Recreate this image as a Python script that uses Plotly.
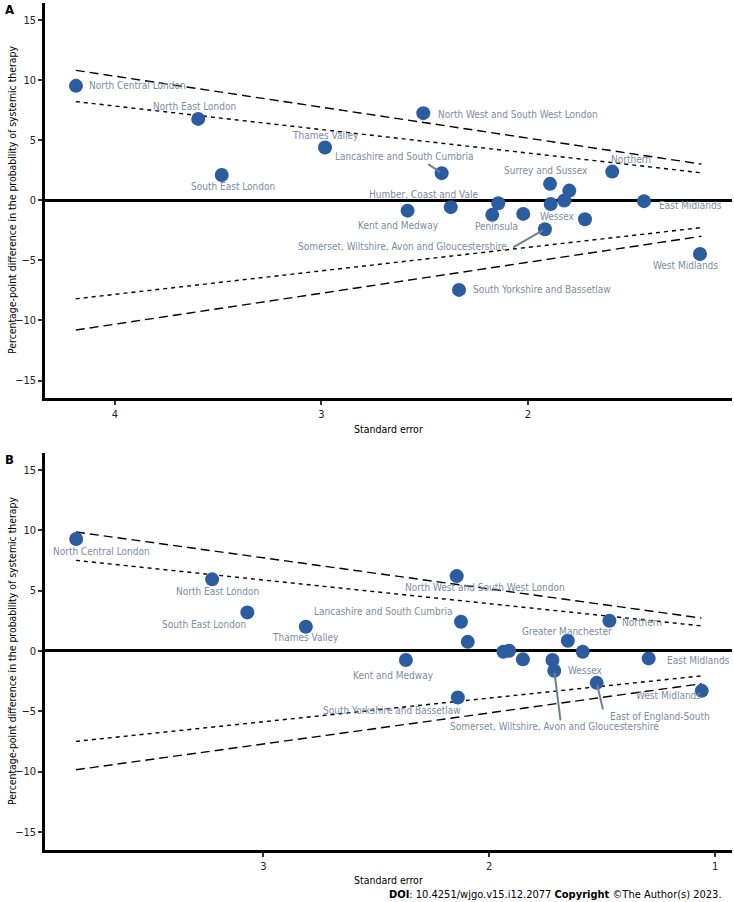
import plotly.graph_objects as go

# Panel A: standard error vs percentage-point difference
a_names = ["North Central London", "North East London", "South East London", "Thames Valley",
           "North West and South West London", "Lancashire and South Cumbria", "Surrey and Sussex", "",
           "Northern", "", "", "East Midlands", "Kent and Medway", "Humber, Coast and Vale", "",
           "Peninsula", "", "Wessex", "Somerset, Wiltshire, Avon and Gloucestershire",
           "West Midlands", "South Yorkshire and Bassetlaw"]
a_se = [4.189, 3.597, 3.483, 2.983, 2.507, 2.418, 1.893, 1.800, 1.592, 1.824, 1.890,
        1.438, 2.583, 2.374, 2.144, 2.173, 2.023, 1.724, 1.918, 1.167, 2.334]
a_diff = [9.51, 6.76, 2.10, 4.38, 7.24, 2.25, 1.36, 0.80, 2.38, -0.03, -0.31,
          -0.08, -0.87, -0.58, -0.25, -1.22, -1.14, -1.58, -2.41, -4.47, -7.46]
a_funnel_se = [4.19, 1.16]
a_upper99 = [10.8, 3.0]
a_upper95 = [8.2, 2.28]
a_lower95 = [-8.2, -2.28]
a_lower99 = [-10.8, -3.0]

# Panel B
b_names = ["North Central London", "North East London", "South East London", "Thames Valley",
           "North West and South West London", "Lancashire and South Cumbria", "", "Northern",
           "Greater Manchester", "", "", "", "", "Kent and Medway", "Wessex", "East Midlands",
           "Somerset, Wiltshire, Avon and Gloucestershire", "East of England-South",
           "West Midlands", "South Yorkshire and Bassetlaw"]
b_se = [3.829, 3.227, 3.071, 2.812, 2.144, 2.125, 2.095, 1.468, 1.652, 1.586, 1.937,
        1.912, 1.851, 2.369, 1.720, 1.294, 1.712, 1.524, 1.059, 2.139]
b_diff = [9.27, 5.93, 3.19, 2.00, 6.20, 2.41, 0.75, 2.50, 0.84, -0.07, -0.07,
          0.01, -0.70, -0.76, -0.76, -0.62, -1.65, -2.65, -3.31, -3.86]
b_funnel_se = [3.83, 1.06]
b_upper99 = [9.85, 2.72]
b_upper95 = [7.5, 2.07]
b_lower95 = [-7.5, -2.07]
b_lower99 = [-9.85, -2.72]

# label placement (pixel offsets from point: dx, dy down, anchor, optional segment start)
a_label_pos = {
    "North Central London": (11, 0, "left", None),
    "North East London": (-4, -12, "center", None),
    "South East London": (11.6, 12, "center", None),
    "Thames Valley": (0, -12.4, "center", None),
    "North West and South West London": (12.4, 1.4, "left", None),
    "Lancashire and South Cumbria": (-37.7, -16.6, "center", (-15, -10)),
    "Surrey and Sussex": (-4, -13, "center", None),
    "Northern": (18.4, -11.7, "center", None),
    "Humber, Coast and Vale": (-27.4, -12.6, "center", None),
    "East Midlands": (12.7, 4, "left", None),
    "Kent and Medway": (-9, 15.3, "center", None),
    "Peninsula": (4, 11.7, "center", None),
    "Wessex": (-8.3, -2.6, "right", None),
    "Somerset, Wiltshire, Avon and Gloucestershire": (-36, 17.4, "right", (-33.3, 19)),
    "West Midlands": (-14.2, 12, "center", None),
    "South Yorkshire and Bassetlaw": (12.3, 0, "left", None),
}
b_label_pos = {
    "North Central London": (25.7, 12, "center", None),
    "North East London": (5.5, 12.4, "center", None),
    "South East London": (0.7, 11.7, "right", None),
    "Thames Valley": (0, 11, "center", None),
    "Lancashire and South Cumbria": (-6.7, -10.7, "right", None),
    "North West and South West London": (28.3, 11.7, "center", None),
    "Northern": (10.7, 1.6, "left", None),
    "Greater Manchester": (-1, -9.7, "center", None),
    "East Midlands": (16.3, 1.7, "left", None),
    "Kent and Medway": (-12, 15.7, "center", None),
    "Wessex": (13.7, 10.7, "left", None),
    "Somerset, Wiltshire, Avon and Gloucestershire": (0.7, 55.3, "center", (6.4, 51)),
    "East of England-South": (63.6, 33.3, "center", (6.6, 28)),
    "West Midlands": (1.6, 4.3, "right", None),
    "South Yorkshire and Bassetlaw": (5.6, 13.4, "right", None),
}

W, H = 734, 902
FONT = "DejaVu Sans Condensed, DejaVu Sans, sans-serif"
POINT = "#2b5c9f"
LABEL = "#7d8aa2"

fig = go.Figure()


def add_panel(fig, xa, ya, se, diff, fse, u99, u95, l95, l99):
    for yy, dash in [(u99, "9px,5px"), (u95, "4px,4px"), (l95, "4px,4px"), (l99, "9px,5px")]:
        fig.add_trace(go.Scatter(x=fse, y=yy, mode="lines", xaxis=xa, yaxis=ya,
                                 line=dict(color="black", width=1.4, dash=dash),
                                 hoverinfo="skip", showlegend=False))
    fig.add_trace(go.Scatter(x=se, y=diff, mode="markers", xaxis=xa, yaxis=ya,
                             marker=dict(color=POINT, size=14), showlegend=False))


add_panel(fig, "x", "y", a_se, a_diff, a_funnel_se, a_upper99, a_upper95, a_lower95, a_lower99)
add_panel(fig, "x2", "y2", b_se, b_diff, b_funnel_se, b_upper99, b_upper95, b_lower95, b_lower99)

annotations = []


def add_labels(names, se, diff, pos, xref, yref):
    for n, x, y in zip(names, se, diff):
        if not n:
            continue
        dx, dy, anchor, seg = pos[n]
        if seg is not None:
            annotations.append(dict(x=x, y=y, xref=xref, yref=yref, text="", showarrow=True,
                                    ax=seg[0], ay=seg[1], arrowhead=0, arrowwidth=2,
                                    arrowcolor="#6f7e93", standoff=2))
        annotations.append(dict(x=x, y=y, xref=xref, yref=yref, text=n, showarrow=False,
                                xshift=dx, yshift=-dy, xanchor=anchor, yanchor="middle",
                                font=dict(family=FONT, size=10, color=LABEL)))


add_labels(a_names, a_se, a_diff, a_label_pos, "x", "y")
add_labels(b_names, b_se, b_diff, b_label_pos, "x2", "y2")

ytitle = "Percentage-point difference in the probability of systemic therapy"
for letter, ytop, ymid, xlab_y in [("A", 9, 200, 429), ("B", 459, 651, 880)]:
    annotations.append(dict(x=3 / W, y=1 - ytop / H, xref="paper", yref="paper", text="<b>%s</b>" % letter,
                            showarrow=False, xanchor="left", yanchor="middle",
                            font=dict(family=FONT, size=13, color="black")))
    annotations.append(dict(x=12 / W, y=1 - ymid / H, xref="paper", yref="paper", text=ytitle,
                            textangle=-90, showarrow=False, xanchor="center", yanchor="middle",
                            font=dict(family=FONT, size=10.4, color="black")))
    annotations.append(dict(x=388.5 / W, y=1 - xlab_y / H, xref="paper", yref="paper", text="Standard error",
                            showarrow=False, xanchor="center", yanchor="middle",
                            font=dict(family=FONT, size=10.5, color="black")))

annotations.append(dict(x=724 / W, y=1 - 894 / H, xref="paper", yref="paper",
                        text="<b>DOI</b>: 10.4251/wjgo.v15.i12.2077 <b>Copyright</b> ©The Author(s) 2023.",
                        showarrow=False, xanchor="right", yanchor="middle",
                        font=dict(family=FONT, size=11, color="black")))

axis_common = dict(showline=True, linewidth=2.5, linecolor="black", showgrid=False,
                   ticks="outside", ticklen=4, tickwidth=2, tickcolor="#333",
                   tickfont=dict(family=FONT, size=11, color="#222"), mirror=False)

fig.update_layout(
    width=W, height=H,
    margin=dict(l=0, r=0, t=0, b=0),
    plot_bgcolor="white", paper_bgcolor="white",
    showlegend=False,
    xaxis=dict(domain=[45 / W, 732 / W], range=[4.339, 1.012], tickvals=[4, 3, 2], anchor="y",
               zeroline=False, **axis_common),
    yaxis=dict(domain=[1 - 398 / H, 1 - 3 / H], range=[-16.45, 16.4], tickvals=[-15, -10, -5, 0, 5, 10, 15],
               anchor="x", zeroline=True, zerolinewidth=2.5, zerolinecolor="black", **axis_common),
    xaxis2=dict(domain=[45 / W, 732 / W], range=[3.967, 0.925], tickvals=[3, 2, 1], anchor="y2",
                zeroline=False, **axis_common),
    yaxis2=dict(domain=[1 - 850 / H, 1 - 453 / H], range=[-16.5, 16.4], tickvals=[-15, -10, -5, 0, 5, 10, 15],
                anchor="x2", zeroline=True, zerolinewidth=2.5, zerolinecolor="black", **axis_common),
    annotations=annotations,
)

# page has a default body margin; remove it so the figure fills the window
fig.write_html("out.html", config={"displayModeBar": False},
               post_script="document.body.style.margin='0';")
